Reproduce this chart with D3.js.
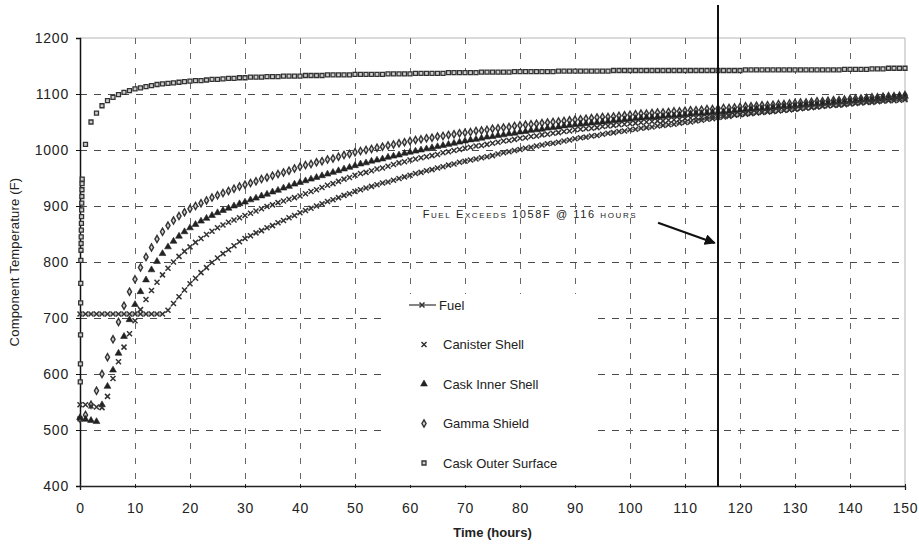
<!DOCTYPE html>
<html>
<head>
<meta charset="utf-8">
<script src="https://cdn.jsdelivr.net/npm/d3@7"></script>
<style>
  body { margin: 0; background: #fff; }
  svg { display: block; font-family: "Liberation Sans", Arial, sans-serif; }
</style>
</head>
<body>
<svg id="chart" width="919" height="548"></svg>
<script>
// ---- data: component temperatures (F) at hourly steps, 0..150 h ----
const hours = d3.range(0, 151);

const fuel = [
  707,707,707,707,707,707,707,707,707,707,707,707,707,707,707,707,
  714,726,738,750,761,771,781,790,799,807,815,822,829,836,842,
  847,852,856,861,865,870,874,879,883,888,
  892,896,900,904,908,911,915,919,922,926,
  929,932,935,938,941,943,946,949,952,955,
  958,960,963,965,968,970,973,975,978,980,
  982,984,986,988,990,993,995,997,999,1001,
  1003,1005,1007,1009,1011,1012,1014,1016,1018,1020,
  1022,1023,1025,1026,1028,1030,1031,1033,1034,1036,
  1037,1039,1040,1041,1043,1044,1045,1046,1048,1049,
  1050,1052,1053,1055,1056,1058,1059,1060,1062,1063,
  1064,1065,1066,1067,1068,1069,1070,1071,1072,1073,
  1074,1075,1076,1077,1078,1079,1080,1080,1081,1082,
  1083,1084,1085,1085,1086,1087,1088,1088,1089,1090
];

const canisterShell = [
  545,545,543,541,540,
  560,592,622,648,672,695,
  715,733,749,764,777,789,800,810,819,827,
  835,842,849,855,861,866,871,875,879,883,
  887,891,895,899,902,906,909,912,915,918,
  922,926,929,933,937,940,944,948,951,955,
  958,960,963,966,968,971,974,977,979,982,
  984,986,988,990,992,995,997,999,1001,1003,
  1005,1007,1008,1010,1012,1014,1016,1017,1019,1021,
  1022,1024,1025,1027,1028,1030,1031,1033,1034,1036,
  1037,1038,1039,1040,1042,1043,1044,1045,1046,1047,
  1048,1049,1050,1051,1052,1052,1053,1054,1055,1056,
  1057,1058,1058,1059,1060,1061,1062,1062,1063,1064,
  1065,1066,1067,1068,1069,1069,1070,1071,1072,1073,
  1074,1075,1076,1077,1078,1079,1080,1081,1082,1083,
  1084,1085,1086,1087,1088,1089,1090,1091,1092,1093
];

const caskInnerShell = [
  522,519,517,515,
  545,578,607,637,667,697,724,
  747,768,786,801,815,827,837,846,854,861,
  867,873,878,883,888,892,896,900,904,907,
  911,914,918,921,925,928,932,935,939,942,
  945,948,951,954,957,960,963,966,969,972,
  975,977,980,982,984,987,989,991,994,996,
  998,1000,1002,1004,1006,1008,1010,1012,1014,1016,
  1018,1019,1021,1023,1024,1026,1027,1029,1030,1032,
  1033,1035,1036,1037,1039,1040,1041,1043,1044,1045,
  1046,1047,1048,1049,1050,1051,1052,1053,1054,1055,
  1056,1057,1058,1058,1059,1060,1061,1061,1062,1063,
  1064,1065,1065,1066,1067,1068,1068,1069,1070,1071,
  1072,1073,1074,1074,1075,1076,1077,1078,1078,1079,
  1080,1081,1082,1082,1083,1084,1085,1086,1086,1087,
  1088,1089,1090,1090,1091,1092,1093,1094,1095,1096
];

const gammaShield = [
  520,527,545,570,600,630,662,693,722,747,769,
  790,809,826,841,854,865,874,882,889,895,
  900,905,910,915,919,923,927,931,935,938,
  941,944,948,951,954,957,960,963,967,970,
  973,975,978,980,983,985,988,991,993,996,
  998,1000,1002,1004,1006,1008,1010,1012,1014,1016,
  1018,1019,1021,1022,1024,1025,1027,1028,1030,1031,
  1032,1034,1035,1036,1038,1039,1040,1041,1043,1044,
  1045,1046,1047,1048,1049,1050,1051,1052,1053,1054,
  1055,1056,1057,1058,1059,1059,1060,1061,1062,1063,
  1064,1065,1065,1066,1067,1067,1068,1069,1069,1070,
  1071,1071,1072,1073,1073,1074,1075,1075,1076,1077,
  1078,1078,1079,1080,1080,1081,1082,1082,1083,1084,
  1085,1085,1086,1087,1087,1088,1089,1089,1090,1091,
  1092,1092,1093,1094,1094,1095,1096,1096,1097,1098
];

const caskOuterSurface = [
  520,1010,1050,1066,1079,1088,1094,1099,1103,1106,1109,
  1111,1113,1115,1117,1118,1119,1120,1121,1122,1123,
  1124,1124,1125,1126,1126,1127,1128,1128,1129,1129,
  1130,1130,1130,1131,1131,1131,1132,1132,1132,1132,
  1133,1133,1133,1133,1134,1134,1134,1134,1134,1135,
  1135,1135,1135,1135,1135,1136,1136,1136,1136,1136,
  1137,1137,1137,1137,1137,1137,1138,1138,1138,1138,
  1138,1138,1139,1139,1139,1139,1139,1139,1140,1140,
  1140,1140,1140,1140,1140,1140,1141,1141,1141,1141,
  1141,1141,1141,1141,1141,1141,1142,1142,1142,1142,
  1142,1142,1142,1142,1142,1142,1142,1142,1142,1142,
  1142,1142,1142,1142,1142,1142,1142,1142,1142,1142,
  1143,1143,1143,1143,1143,1143,1143,1143,1143,1143,
  1143,1143,1143,1143,1143,1143,1143,1143,1144,1144,
  1144,1144,1144,1145,1145,1145,1146,1146,1146,1146
];

// fine time steps at the start of the fire (outer surface heat-up)
const outerEarlyHours = [0.05,0.08,0.10,0.12,0.14,0.16,0.18,0.20,0.22,0.24,0.26,0.28,0.30,0.32,0.34,0.36,0.38,0.40];
const outerEarlyTemps = [586,618,670,727,762,803,821,833,845,857,869,881,893,905,917,929,940,948];

const xTicks = d3.range(0, 151, 10);
const yTicks = [400, 500, 600, 700, 800, 900, 1000, 1100, 1200];

const seriesNames = ["Fuel", "Canister Shell", "Cask Inner Shell", "Gamma Shield", "Cask Outer Surface"];

const eventHour = 116;
const eventLabel = "Fuel Exceeds 1058F @ 116 hours";

// ---- layout ----
const svg = d3.select("#chart");
const W = 919, H = 548;
const plot = { left: 80, right: 905, top: 38, bottom: 486 };

const x = d3.scaleLinear().domain([0, 150]).range([plot.left, plot.right]);
const y = d3.scaleLinear().domain([400, 1200]).range([plot.bottom, plot.top]);

svg.append("rect").attr("width", W).attr("height", H).attr("fill", "#fff");

// plot frame (top/right)
svg.append("path")
  .attr("d", `M${x(0)},${y(1200)}H${x(150)}V${y(400)}`)
  .attr("fill", "none").attr("stroke", "#b5b5b5").attr("stroke-width", 1);

// dashed gridlines
const grid = svg.append("g").attr("stroke", "#4a4a4a").attr("stroke-width", 1)
  .attr("stroke-dasharray", "7,7").attr("fill", "none");
grid.selectAll("line.h").data(yTicks.filter(v => v > 400 && v < 1200)).join("line")
  .attr("class", "h")
  .attr("x1", x(0)).attr("x2", x(150))
  .attr("y1", d => y(d) + 0.5).attr("y2", d => y(d) + 0.5);
grid.selectAll("line.v").data(xTicks.filter(v => v > 0 && v < 150)).join("line")
  .attr("class", "v")
  .attr("stroke-dasharray", "6,9")
  .attr("stroke", "#666")
  .attr("x1", d => x(d) + 0.5).attr("x2", d => x(d) + 0.5)
  .attr("y1", y(1200)).attr("y2", y(400));

// axes
const axisFont = g => g.selectAll("text")
  .attr("font-family", "Liberation Sans, Arial, sans-serif")
  .attr("font-size", 14).attr("fill", "#222").attr("letter-spacing", "0.8px");

const yAxis = svg.append("g")
  .attr("transform", `translate(${plot.left},0)`)
  .call(d3.axisLeft(y).tickValues(yTicks).tickSize(4).tickPadding(7).tickFormat(d3.format("d")))
  .call(axisFont);
yAxis.select(".domain").attr("stroke", "#111").attr("stroke-width", 1.5);
yAxis.selectAll(".tick line").attr("stroke", "#111");

const xAxis = svg.append("g")
  .attr("transform", `translate(0,${plot.bottom})`)
  .call(d3.axisBottom(x).tickValues(xTicks).tickSize(4).tickPadding(13).tickFormat(d3.format("d")))
  .call(axisFont);
xAxis.select(".domain").attr("stroke", "#222").attr("stroke-width", 1.3);
xAxis.selectAll(".tick line").attr("stroke", "#222").attr("transform", "translate(0,-2)");

// axis titles
svg.append("text")
  .attr("x", (plot.left + plot.right) / 2).attr("y", 537)
  .attr("text-anchor", "middle").attr("font-size", 13).attr("font-weight", "bold")
  .attr("fill", "#222").text("Time (hours)");
svg.append("text")
  .attr("transform", `translate(19,${(plot.top + plot.bottom) / 2}) rotate(-90)`)
  .attr("text-anchor", "middle").attr("font-size", 13).attr("fill", "#222")
  .attr("letter-spacing", "0.2px")
  .text("Component Temperature (F)");

// ---- series ----
const pts = arr => hours.map((h, i) => [h, arr[i]]);
const sym = (type, size) => d3.symbol().type(type).size(size)();

const series = [
  { name: seriesNames[4], data: outerEarlyHours.map((h, i) => [h, outerEarlyTemps[i]]).concat(pts(caskOuterSurface)),
    shape: sym(d3.symbolSquare, 16), fill: "#cfcfcf", stroke: "#333", sw: 1.3 },
  { name: seriesNames[3], data: pts(gammaShield),
    shape: sym(d3.symbolDiamond, 15), fill: "#d0d0d0", stroke: "#333", sw: 1.4 },
  { name: seriesNames[2], data: pts(caskInnerShell),
    shape: sym(d3.symbolTriangle, 20), fill: "#222", stroke: "#222", sw: 0.6 },
  { name: seriesNames[1], data: pts(canisterShell),
    shape: sym(d3.symbolX, 18), fill: "none", stroke: "#333", sw: 1.5 },
  { name: seriesNames[0], data: pts(fuel),
    shape: sym(d3.symbolX, 18), fill: "none", stroke: "#333", sw: 1.5, line: true }
];

const dataLayer = svg.append("g");
series.forEach(s => {
  if (s.line) {
    dataLayer.append("path")
      .datum(s.data)
      .attr("d", d3.line().x(d => x(d[0])).y(d => y(d[1])))
      .attr("fill", "none").attr("stroke", "#555").attr("stroke-width", 0.8);
  }
  dataLayer.append("g").selectAll("path").data(s.data).join("path")
    .attr("transform", d => `translate(${x(d[0])},${y(d[1])})`)
    .attr("d", s.shape)
    .attr("fill", s.fill).attr("stroke", s.stroke).attr("stroke-width", s.sw);
});

// ---- event marker: vertical line and arrow ----
svg.append("line")
  .attr("x1", x(eventHour)).attr("x2", x(eventHour))
  .attr("y1", y(1259)).attr("y2", y(400))
  .attr("stroke", "#111").attr("stroke-width", 2);

svg.append("defs").append("marker")
  .attr("id", "arrowhead").attr("viewBox", "0 0 10 10")
  .attr("refX", 9).attr("refY", 5)
  .attr("markerWidth", 5).attr("markerHeight", 5).attr("orient", "auto")
  .append("path").attr("d", "M0,0L10,5L0,10z").attr("fill", "#111");

svg.append("line")
  .attr("x1", x(105.1)).attr("y1", y(870))
  .attr("x2", x(115.4)).attr("y2", y(834))
  .attr("stroke", "#111").attr("stroke-width", 2.2)
  .attr("marker-end", "url(#arrowhead)");

svg.append("text")
  .attr("x", x(62.3)).attr("y", y(878))
  .attr("font-size", 11).attr("fill", "#222")
  .attr("letter-spacing", "1.6px")
  .style("font-variant", "small-caps")
  .text(eventLabel);

// ---- legend ----
const legend = svg.append("g");
legend.append("rect")
  .attr("x", 388).attr("y", 294).attr("width", 210).attr("height", 191)
  .attr("fill", "#fff");

const legendRows = [series[4], series[3], series[2], series[1], series[0]];
legendRows.forEach((s, i) => {
  const cy = 305 + i * 39.5;
  const g = legend.append("g");
  if (s.line) {
    g.append("line").attr("x1", 409).attr("x2", 436).attr("y1", cy).attr("y2", cy)
      .attr("stroke", "#333").attr("stroke-width", 1.2);
    g.append("path").attr("transform", `translate(422,${cy})`).attr("d", s.shape)
      .attr("fill", s.fill).attr("stroke", s.stroke).attr("stroke-width", s.sw);
    g.append("text").attr("x", 439).attr("y", cy).attr("dy", "0.36em")
      .attr("font-size", 13).attr("fill", "#222").text(s.name);
  } else {
    g.append("path").attr("transform", `translate(424,${cy})`).attr("d", s.shape)
      .attr("fill", s.fill).attr("stroke", s.stroke).attr("stroke-width", s.sw);
    g.append("text").attr("x", 443).attr("y", cy).attr("dy", "0.36em")
      .attr("font-size", 13).attr("fill", "#222").text(s.name);
  }
});
</script>
</body>
</html>
